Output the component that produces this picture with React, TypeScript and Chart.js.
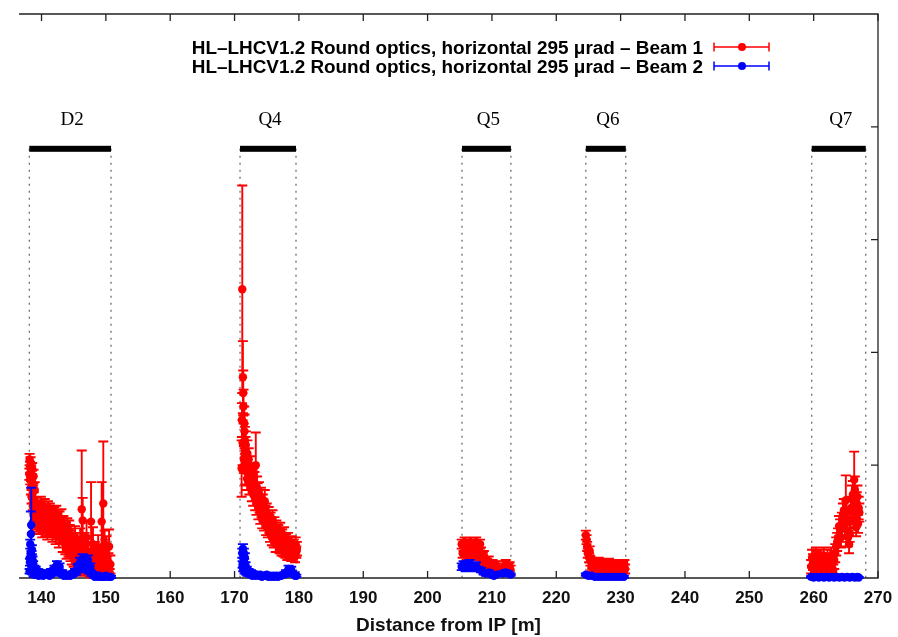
import React, { useEffect, useRef } from "react";
import { Chart, registerables } from "chart.js";

Chart.register(...registerables);

// ---------- axis ranges / ticks ----------
const X_MIN = 136.5;
const X_MAX = 270;
const Y_MIN = 0;
const Y_MAX = 5;
const xTicks = [140, 150, 160, 170, 180, 190, 200, 210, 220, 230, 240, 250, 260, 270];
const yTicks = [1, 2, 3, 4];
const xTitle = "Distance from IP [m]";

// ---------- magnets ----------
const magnetNames = ["D2", "Q4", "Q5", "Q6", "Q7"];
const magnetStart = [138.1, 170.85, 205.35, 224.6, 259.7];
const magnetEnd = [150.8, 179.55, 212.95, 230.8, 268.1];

// ---------- legend ----------
const legendLabels = [
  "HL\u2013LHCV1.2 Round optics, horizontal 295 \u03bcrad \u2013 Beam 1",
  "HL\u2013LHCV1.2 Round optics, horizontal 295 \u03bcrad \u2013 Beam 2",
];

// ---------- data: [position (m), value, error] ----------
const beam1D2 = [
  [138.1, 0.92, 0.05], [138.15, 1.05, 0.05], [138.2, 0.98, 0.05], [138.25, 0.88, 0.05],
  [138.3, 1.02, 0.05], [138.35, 0.8, 0.06], [138.4, 0.95, 0.05], [138.45, 0.72, 0.06],
  [138.5, 0.9, 0.05], [138.55, 0.97, 0.05], [138.6, 0.84, 0.06], [138.65, 0.66, 0.06],
  [138.7, 0.76, 0.06], [138.75, 0.9, 0.06], [138.8, 0.7, 0.06], [138.85, 0.55, 0.07],
  [138.9, 0.62, 0.07], [138.95, 0.78, 0.07], [139.0, 0.5, 0.07], [139.1, 0.58, 0.07],
  [139.2, 0.64, 0.07], [139.3, 0.48, 0.07], [139.4, 0.55, 0.07], [139.5, 0.62, 0.07],
  [139.6, 0.46, 0.07], [139.7, 0.6, 0.07], [139.8, 0.52, 0.08], [139.9, 0.64, 0.08],
  [140.0, 0.56, 0.08], [140.1, 0.44, 0.08], [140.2, 0.6, 0.08], [140.3, 0.48, 0.08],
  [140.4, 0.52, 0.08], [140.5, 0.62, 0.08], [140.6, 0.45, 0.08], [140.7, 0.54, 0.08],
  [140.8, 0.58, 0.08], [140.9, 0.42, 0.08], [141.0, 0.6, 0.08], [141.1, 0.46, 0.08],
  [141.2, 0.54, 0.08], [141.3, 0.58, 0.08], [141.4, 0.44, 0.08], [141.5, 0.52, 0.08],
  [141.6, 0.5, 0.08], [141.7, 0.4, 0.08], [141.8, 0.56, 0.08], [141.9, 0.44, 0.08],
  [142.0, 0.55, 0.08], [142.1, 0.5, 0.08], [142.2, 0.38, 0.08], [142.3, 0.56, 0.08],
  [142.4, 0.48, 0.08], [142.5, 0.42, 0.08], [142.6, 0.52, 0.09], [142.7, 0.36, 0.09],
  [142.8, 0.5, 0.09], [142.9, 0.46, 0.09], [143.0, 0.4, 0.09], [143.1, 0.52, 0.09],
  [143.2, 0.45, 0.09], [143.3, 0.32, 0.09], [143.4, 0.46, 0.09], [143.5, 0.36, 0.09],
  [143.6, 0.42, 0.09], [143.7, 0.3, 0.09], [143.8, 0.4, 0.09], [143.9, 0.26, 0.09],
  [144.0, 0.44, 0.09], [144.1, 0.34, 0.09], [144.2, 0.28, 0.09], [144.3, 0.42, 0.09],
  [144.4, 0.38, 0.09], [144.5, 0.24, 0.09], [144.6, 0.32, 0.1], [144.7, 0.22, 0.1],
  [144.8, 0.34, 0.1], [144.9, 0.28, 0.1], [145.0, 0.2, 0.1], [145.1, 0.3, 0.1],
  [145.2, 0.36, 0.1], [145.3, 0.18, 0.1], [145.4, 0.26, 0.1], [145.5, 0.16, 0.1],
  [145.6, 0.3, 0.1], [145.7, 0.24, 0.1], [145.8, 0.14, 0.1], [145.9, 0.22, 0.1],
  [146.0, 0.34, 0.1], [146.1, 0.12, 0.08], [146.25, 0.61, 0.52], [146.3, 0.2, 0.1],
  [146.4, 0.51, 0.2], [146.5, 0.1, 0.08], [146.6, 0.18, 0.1], [146.7, 0.28, 0.12],
  [146.9, 0.08, 0.06], [147.0, 0.36, 0.15], [147.1, 0.2, 0.1], [147.2, 0.1, 0.08],
  [147.3, 0.22, 0.1], [147.4, 0.16, 0.1], [147.5, 0.06, 0.05], [147.7, 0.5, 0.35],
  [147.8, 0.12, 0.08], [147.9, 0.05, 0.05], [148.0, 0.3, 0.15], [148.1, 0.14, 0.08],
  [148.2, 0.06, 0.05], [148.3, 0.22, 0.1], [148.4, 0.2, 0.1], [148.5, 0.08, 0.06],
  [148.6, 0.16, 0.08], [148.7, 0.05, 0.05], [148.8, 0.26, 0.12], [148.9, 0.12, 0.08],
  [149.0, 0.06, 0.05], [149.1, 0.16, 0.1], [149.2, 0.2, 0.1], [149.35, 0.5, 0.35],
  [149.4, 0.08, 0.06], [149.5, 0.14, 0.08], [149.6, 0.66, 0.55], [149.7, 0.06, 0.05],
  [149.8, 0.3, 0.12], [149.9, 0.22, 0.12], [150.0, 0.1, 0.06], [150.1, 0.25, 0.12],
  [150.2, 0.18, 0.1], [150.3, 0.06, 0.05], [150.4, 0.14, 0.08], [150.5, 0.28, 0.15],
  [150.6, 0.04, 0.04], [150.7, 0.12, 0.08],
];
const beam1Q4 = [
  [171.1, 0.97, 0.25], [171.15, 1.4, 0.15], [171.2, 2.56, 0.92], [171.25, 1.2, 0.2],
  [171.3, 1.78, 0.32], [171.35, 1.64, 0.2], [171.4, 1.52, 0.15], [171.45, 1.05, 0.12],
  [171.5, 1.37, 0.15], [171.55, 1.3, 0.15], [171.6, 1.22, 0.12], [171.65, 0.95, 0.12],
  [171.7, 1.13, 0.12], [171.75, 1.18, 0.12], [171.8, 0.97, 0.15], [171.85, 1.05, 0.1],
  [171.95, 0.88, 0.1], [172.0, 1.1, 0.12], [172.1, 0.98, 0.1], [172.2, 1.05, 0.1],
  [172.3, 0.84, 0.1], [172.4, 0.98, 0.1], [172.5, 0.92, 0.1], [172.6, 0.9, 0.1],
  [172.7, 0.78, 0.1], [172.8, 0.86, 0.1], [172.9, 0.74, 0.1], [173.0, 0.92, 0.1],
  [173.1, 0.84, 0.1], [173.2, 0.7, 0.1], [173.3, 1.0, 0.29], [173.4, 0.66, 0.1],
  [173.5, 0.8, 0.1], [173.6, 0.74, 0.1], [173.7, 0.62, 0.1], [173.8, 0.75, 0.1],
  [173.9, 0.68, 0.1], [174.0, 0.58, 0.1], [174.1, 0.7, 0.1], [174.2, 0.62, 0.08],
  [174.3, 0.52, 0.08], [174.4, 0.64, 0.1], [174.5, 0.58, 0.08], [174.6, 0.5, 0.08],
  [174.7, 0.68, 0.1], [174.8, 0.56, 0.08], [174.9, 0.46, 0.08], [175.0, 0.58, 0.08],
  [175.1, 0.5, 0.08], [175.2, 0.44, 0.08], [175.3, 0.55, 0.08], [175.4, 0.48, 0.08],
  [175.5, 0.4, 0.08], [175.6, 0.5, 0.08], [175.7, 0.44, 0.08], [175.8, 0.36, 0.07],
  [175.9, 0.52, 0.08], [176.0, 0.42, 0.07], [176.1, 0.34, 0.07], [176.2, 0.46, 0.08],
  [176.3, 0.38, 0.07], [176.4, 0.3, 0.07], [176.5, 0.44, 0.07], [176.6, 0.36, 0.07],
  [176.7, 0.3, 0.07], [176.8, 0.4, 0.07], [176.9, 0.34, 0.06], [177.0, 0.28, 0.06],
  [177.1, 0.42, 0.07], [177.2, 0.32, 0.06], [177.3, 0.26, 0.06], [177.4, 0.36, 0.07],
  [177.5, 0.3, 0.06], [177.6, 0.25, 0.06], [177.7, 0.38, 0.07], [177.8, 0.3, 0.06],
  [177.9, 0.24, 0.06], [178.0, 0.33, 0.06], [178.1, 0.28, 0.06], [178.2, 0.22, 0.06],
  [178.3, 0.34, 0.06], [178.4, 0.27, 0.06], [178.5, 0.22, 0.05], [178.6, 0.3, 0.06],
  [178.7, 0.26, 0.05], [178.8, 0.2, 0.05], [178.9, 0.31, 0.06], [179.0, 0.25, 0.05],
  [179.1, 0.2, 0.05], [179.2, 0.28, 0.06], [179.3, 0.24, 0.05], [179.4, 0.19, 0.05],
  [179.5, 0.3, 0.06], [179.6, 0.23, 0.05], [179.7, 0.26, 0.06],
];
const beam1Q5 = [
  [205.3, 0.3, 0.04], [205.45, 0.22, 0.04], [205.6, 0.28, 0.04], [205.75, 0.32, 0.04],
  [205.9, 0.24, 0.04], [206.05, 0.2, 0.04], [206.2, 0.3, 0.04], [206.35, 0.24, 0.04],
  [206.5, 0.26, 0.04], [206.65, 0.32, 0.04], [206.8, 0.22, 0.04], [206.95, 0.2, 0.04],
  [207.1, 0.28, 0.05], [207.25, 0.22, 0.04], [207.4, 0.29, 0.05], [207.55, 0.32, 0.04],
  [207.7, 0.24, 0.05], [207.85, 0.2, 0.04], [208.0, 0.26, 0.05], [208.15, 0.3, 0.04],
  [208.3, 0.22, 0.05], [208.45, 0.16, 0.04], [208.6, 0.18, 0.05], [208.75, 0.2, 0.04],
  [208.9, 0.14, 0.04], [209.05, 0.1, 0.04], [209.2, 0.12, 0.04], [209.35, 0.08, 0.04],
  [209.5, 0.15, 0.04], [209.65, 0.12, 0.04], [209.8, 0.1, 0.04], [209.95, 0.07, 0.04],
  [210.1, 0.12, 0.04], [210.25, 0.09, 0.04], [210.4, 0.09, 0.04], [210.55, 0.06, 0.04],
  [210.7, 0.11, 0.04], [211.7, 0.09, 0.04], [211.85, 0.06, 0.04], [212.0, 0.1, 0.05],
  [212.15, 0.12, 0.04], [212.3, 0.08, 0.04], [212.45, 0.06, 0.04], [212.6, 0.09, 0.04],
  [212.75, 0.1, 0.04], [212.9, 0.07, 0.04],
];
const beam1Q6 = [
  [224.6, 0.38, 0.04], [224.7, 0.34, 0.04], [224.8, 0.28, 0.04], [224.9, 0.22, 0.04],
  [225.1, 0.18, 0.04], [225.2, 0.24, 0.04], [225.3, 0.15, 0.04], [225.45, 0.1, 0.04],
  [225.6, 0.12, 0.04], [225.8, 0.14, 0.04], [226.0, 0.1, 0.04], [226.2, 0.07, 0.04],
  [226.4, 0.12, 0.05], [226.6, 0.14, 0.04], [226.8, 0.09, 0.04], [227.0, 0.07, 0.04],
  [227.2, 0.11, 0.05], [227.4, 0.13, 0.04], [227.6, 0.08, 0.04], [227.8, 0.06, 0.04],
  [228.0, 0.1, 0.05], [228.2, 0.13, 0.04], [228.4, 0.09, 0.05], [228.6, 0.06, 0.04],
  [228.8, 0.11, 0.05], [229.0, 0.12, 0.04], [229.2, 0.08, 0.05], [229.4, 0.06, 0.04],
  [229.6, 0.1, 0.05], [229.8, 0.12, 0.04], [230.0, 0.09, 0.05], [230.2, 0.06, 0.04],
  [230.4, 0.1, 0.05], [230.6, 0.12, 0.04], [230.7, 0.08, 0.04],
];
const beam1Q7 = [
  [259.6, 0.1, 0.06], [259.75, 0.18, 0.07], [259.9, 0.14, 0.07], [260.05, 0.05, 0.05],
  [260.2, 0.08, 0.06], [260.35, 0.2, 0.07], [260.5, 0.16, 0.08], [260.65, 0.06, 0.05],
  [260.8, 0.12, 0.07], [260.95, 0.18, 0.07], [261.1, 0.1, 0.06], [261.25, 0.05, 0.05],
  [261.4, 0.15, 0.07], [261.55, 0.2, 0.07], [261.7, 0.11, 0.06], [261.85, 0.06, 0.05],
  [262.0, 0.13, 0.07], [262.15, 0.18, 0.07], [262.3, 0.09, 0.06], [262.45, 0.05, 0.05],
  [262.6, 0.14, 0.07], [262.75, 0.2, 0.07], [262.9, 0.12, 0.07], [263.05, 0.07, 0.05],
  [263.2, 0.16, 0.08], [263.35, 0.22, 0.08], [263.5, 0.28, 0.08], [263.65, 0.32, 0.08],
  [263.8, 0.36, 0.08], [263.95, 0.46, 0.09], [264.1, 0.42, 0.1], [264.25, 0.36, 0.09],
  [264.4, 0.48, 0.1], [264.55, 0.56, 0.1], [264.7, 0.6, 0.1], [264.85, 0.44, 0.09],
  [265.0, 0.69, 0.22], [265.1, 0.58, 0.1], [265.2, 0.52, 0.1], [265.35, 0.36, 0.08],
  [265.5, 0.3, 0.08], [265.6, 0.4, 0.08], [265.7, 0.5, 0.1], [265.8, 0.62, 0.1],
  [265.95, 0.7, 0.12], [266.1, 0.74, 0.12], [266.2, 0.6, 0.1], [266.3, 0.87, 0.25],
  [266.4, 0.78, 0.12], [266.5, 0.55, 0.1], [266.6, 0.45, 0.08], [266.7, 0.66, 0.1],
  [266.8, 0.72, 0.1], [266.9, 0.48, 0.08], [267.0, 0.62, 0.1], [267.1, 0.58, 0.08],
];

const beam2D2 = [
  [138.15, 0.06, 0.02], [138.2, 0.14, 0.03], [138.25, 0.3, 0.04], [138.3, 0.22, 0.04],
  [138.35, 0.39, 0.2], [138.4, 0.47, 0.33], [138.45, 0.2, 0.04], [138.5, 0.25, 0.04],
  [138.55, 0.08, 0.02], [138.6, 0.16, 0.03], [138.65, 0.05, 0.02], [138.7, 0.12, 0.03],
  [138.8, 0.03, 0.02], [138.9, 0.09, 0.02], [139.0, 0.04, 0.02], [139.1, 0.08, 0.02],
  [139.25, 0.03, 0.01], [139.4, 0.06, 0.02], [139.55, 0.02, 0.01], [139.7, 0.05, 0.02],
  [139.85, 0.03, 0.01], [140.0, 0.05, 0.02], [140.25, 0.02, 0.01], [140.5, 0.04, 0.02],
  [140.75, 0.03, 0.01], [141.0, 0.05, 0.02], [141.25, 0.02, 0.01], [141.5, 0.06, 0.02],
  [141.75, 0.04, 0.01], [142.0, 0.09, 0.02], [142.2, 0.06, 0.02], [142.4, 0.12, 0.03],
  [142.6, 0.08, 0.02], [142.8, 0.1, 0.03], [143.0, 0.04, 0.02], [143.2, 0.05, 0.02],
  [143.45, 0.02, 0.01], [143.7, 0.03, 0.01], [143.95, 0.02, 0.01], [144.2, 0.03, 0.01],
  [144.45, 0.02, 0.01], [144.7, 0.04, 0.01], [144.95, 0.03, 0.01], [145.2, 0.06, 0.02],
  [145.4, 0.05, 0.02], [145.6, 0.09, 0.03], [145.8, 0.1, 0.03], [146.0, 0.14, 0.04],
  [146.2, 0.08, 0.03], [146.4, 0.17, 0.04], [146.6, 0.12, 0.03], [146.8, 0.13, 0.04],
  [147.0, 0.09, 0.03], [147.2, 0.16, 0.04], [147.4, 0.06, 0.02], [147.6, 0.1, 0.03],
  [147.8, 0.03, 0.01], [148.0, 0.04, 0.01], [148.25, 0.01, 0.01], [148.5, 0.02, 0.01],
  [148.75, 0.01, 0.01], [149.0, 0.02, 0.01], [149.25, 0.01, 0.01], [149.5, 0.01, 0.01],
  [149.75, 0.01, 0.01], [150.0, 0.02, 0.01], [150.25, 0.01, 0.01], [150.5, 0.01, 0.01],
  [150.8, 0.01, 0.01],
];
const beam2Q4 = [
  [171.2, 0.22, 0.04], [171.25, 0.12, 0.03], [171.3, 0.26, 0.04], [171.35, 0.08, 0.02],
  [171.4, 0.18, 0.04], [171.45, 0.22, 0.04], [171.5, 0.14, 0.03], [171.55, 0.06, 0.02],
  [171.6, 0.18, 0.04], [171.7, 0.11, 0.03], [171.8, 0.05, 0.02], [171.9, 0.08, 0.02],
  [172.0, 0.04, 0.02], [172.2, 0.06, 0.02], [172.35, 0.03, 0.01], [172.5, 0.05, 0.02],
  [172.75, 0.02, 0.01], [173.0, 0.04, 0.01], [173.25, 0.02, 0.01], [173.5, 0.03, 0.01],
  [173.75, 0.02, 0.01], [174.0, 0.03, 0.01], [174.25, 0.01, 0.01], [174.5, 0.02, 0.01],
  [174.75, 0.02, 0.01], [175.0, 0.03, 0.01], [175.25, 0.01, 0.01], [175.5, 0.02, 0.01],
  [175.75, 0.01, 0.01], [176.0, 0.02, 0.01], [176.25, 0.01, 0.01], [176.5, 0.02, 0.01],
  [176.75, 0.01, 0.01], [177.0, 0.02, 0.01], [177.25, 0.02, 0.01], [177.5, 0.03, 0.01],
  [177.75, 0.03, 0.01], [178.0, 0.05, 0.02], [178.2, 0.04, 0.02], [178.4, 0.08, 0.03],
  [178.6, 0.06, 0.02], [178.8, 0.07, 0.03], [179.0, 0.04, 0.02], [179.2, 0.03, 0.01],
  [179.4, 0.02, 0.01], [179.6, 0.02, 0.01],
];
const beam2Q5 = [
  [205.3, 0.1, 0.03], [205.6, 0.12, 0.03], [205.9, 0.09, 0.03], [206.2, 0.11, 0.03],
  [206.5, 0.13, 0.03], [206.8, 0.1, 0.03], [207.1, 0.09, 0.03], [207.5, 0.11, 0.03],
  [207.9, 0.08, 0.02], [208.3, 0.07, 0.02], [208.7, 0.05, 0.02], [209.1, 0.04, 0.02],
  [209.5, 0.05, 0.02], [209.9, 0.03, 0.01], [210.3, 0.02, 0.01], [210.7, 0.03, 0.01],
  [211.7, 0.04, 0.02], [212.1, 0.05, 0.02], [212.5, 0.04, 0.02], [212.9, 0.03, 0.01],
];
const beam2Q6 = [
  [224.6, 0.03, 0.01], [225.0, 0.02, 0.01], [225.5, 0.02, 0.01], [226.0, 0.01, 0.01],
  [226.5, 0.01, 0.01], [227.0, 0.01, 0.01], [227.5, 0.01, 0.01], [228.0, 0.01, 0.01],
  [228.5, 0.01, 0.01], [229.0, 0.01, 0.01], [229.5, 0.01, 0.01], [230.0, 0.01, 0.01],
  [230.5, 0.01, 0.01],
];
const beam2Q7 = [
  [259.6, 0.01, 0.005], [260.0, 0.005, 0.005], [260.4, 0.01, 0.005], [260.8, 0.005, 0.005],
  [261.2, 0.01, 0.005], [261.6, 0.005, 0.005], [262.0, 0.01, 0.005], [262.4, 0.005, 0.005],
  [262.8, 0.01, 0.005], [263.2, 0.005, 0.005], [263.6, 0.01, 0.005], [264.0, 0.005, 0.005],
  [264.4, 0.01, 0.005], [264.8, 0.005, 0.005], [265.2, 0.01, 0.005], [265.6, 0.005, 0.005],
  [266.0, 0.01, 0.005], [266.4, 0.005, 0.005], [266.8, 0.01, 0.005], [267.0, 0.005, 0.005],
];

const beam1 = [...beam1D2, ...beam1Q4, ...beam1Q5, ...beam1Q6, ...beam1Q7];
const beam2 = [...beam2D2, ...beam2Q4, ...beam2Q5, ...beam2Q6, ...beam2Q7];

const RED = "#ff0000";
const BLUE = "#0000ff";
const SANS = "'Liberation Sans', Arial, Helvetica, sans-serif";
const SERIF = "'Liberation Serif', 'Times New Roman', serif";

const toPoints = (rows: number[][]) => rows.map(([x, y, e]) => ({ x, y, err: e }));

const errorBarPlugin = {
  id: "errorBars",
  beforeDatasetDraw(chart: any, args: any) {
    const ds = chart.data.datasets[args.index];
    const xs = chart.scales.x;
    const ys = chart.scales.y;
    const ctx = chart.ctx;
    const a = chart.chartArea;
    ctx.save();
    ctx.beginPath();
    ctx.rect(a.left, a.top, a.right - a.left, a.bottom - a.top + 1);
    ctx.clip();
    ctx.strokeStyle = ds.borderColor;
    ctx.lineWidth = 1.9;
    ctx.beginPath();
    const cap = 5;
    for (const p of ds.data) {
      const px = xs.getPixelForValue(p.x);
      const top = ys.getPixelForValue(p.y + p.err);
      const bot = ys.getPixelForValue(p.y - p.err);
      ctx.moveTo(px, top);
      ctx.lineTo(px, bot);
      ctx.moveTo(px - cap, top);
      ctx.lineTo(px + cap, top);
      ctx.moveTo(px - cap, bot);
      ctx.lineTo(px + cap, bot);
    }
    ctx.stroke();
    ctx.restore();
  },
};

const framePlugin = {
  id: "frame",
  beforeDatasetsDraw(chart: any) {
    const ctx = chart.ctx;
    const xs = chart.scales.x;
    const ys = chart.scales.y;
    const a = chart.chartArea;
    ctx.save();

    // magnets: dotted edges, bars, labels
    const barY = ys.getPixelForValue(3.805);
    const labelY = ys.getPixelForValue(4.02);
    for (let i = 0; i < magnetNames.length; i++) {
      const x0 = xs.getPixelForValue(magnetStart[i]);
      const x1 = xs.getPixelForValue(magnetEnd[i]);
      ctx.strokeStyle = "#555";
      ctx.lineWidth = 1.1;
      ctx.setLineDash([2, 5]);
      ctx.beginPath();
      ctx.moveTo(x0, barY);
      ctx.lineTo(x0, a.bottom);
      ctx.moveTo(x1, barY);
      ctx.lineTo(x1, a.bottom);
      ctx.stroke();
      ctx.setLineDash([]);
      ctx.fillStyle = "#000";
      ctx.fillRect(x0, barY - 3, x1 - x0, 6);
      ctx.font = `19px ${SERIF}`;
      ctx.textAlign = "center";
      ctx.textBaseline = "alphabetic";
      ctx.fillText(magnetNames[i], (x0 + x1) / 2 + 2, labelY);
    }

    // frame (top, right, bottom)
    ctx.strokeStyle = "#222";
    ctx.lineWidth = 1.3;
    ctx.beginPath();
    ctx.moveTo(a.left, a.top);
    ctx.lineTo(a.right, a.top);
    ctx.lineTo(a.right, a.bottom);
    ctx.lineTo(a.left, a.bottom);
    ctx.stroke();

    // inward ticks
    const tl = 7;
    ctx.beginPath();
    for (const v of xTicks) {
      const px = xs.getPixelForValue(v);
      ctx.moveTo(px, a.bottom);
      ctx.lineTo(px, a.bottom - tl);
      ctx.moveTo(px, a.top);
      ctx.lineTo(px, a.top + tl);
    }
    for (const v of yTicks) {
      const py = ys.getPixelForValue(v);
      ctx.moveTo(a.right, py);
      ctx.lineTo(a.right - tl, py);
    }
    ctx.stroke();
    ctx.restore();
  },
};

const legendPlugin = {
  id: "gpLegend",
  afterDraw(chart: any) {
    const ctx = chart.ctx;
    const colors = [RED, BLUE];
    const rowsY = [47, 66];
    ctx.save();
    ctx.font = `bold 18.9px ${SANS}`;
    ctx.textAlign = "right";
    ctx.textBaseline = "alphabetic";
    for (let i = 0; i < legendLabels.length; i++) {
      const y = rowsY[i];
      ctx.fillStyle = "#000";
      ctx.fillText(legendLabels[i], 703, y + 6.5);
      ctx.strokeStyle = colors[i];
      ctx.lineWidth = 1.5;
      ctx.beginPath();
      ctx.moveTo(714, y);
      ctx.lineTo(769, y);
      ctx.moveTo(714, y - 4.5);
      ctx.lineTo(714, y + 4.5);
      ctx.moveTo(769, y - 4.5);
      ctx.lineTo(769, y + 4.5);
      ctx.stroke();
      ctx.fillStyle = colors[i];
      ctx.beginPath();
      ctx.arc(742, y, 4, 0, Math.PI * 2);
      ctx.fill();
    }
    ctx.restore();
  },
};

export default function App() {
  const canvasRef = useRef<HTMLCanvasElement | null>(null);

  useEffect(() => {
    const canvas = canvasRef.current;
    if (!canvas) return;
    const chart = new Chart(canvas, {
      type: "scatter",
      data: {
        datasets: [
          {
            label: legendLabels[0],
            data: toPoints(beam1) as any,
            borderColor: RED,
            backgroundColor: RED,
            pointRadius: 4.2,
            pointBorderWidth: 0,
            pointHoverRadius: 4.2,
            showLine: false,
            clip: false as any,
            order: 2,
          },
          {
            label: legendLabels[1],
            data: toPoints(beam2) as any,
            borderColor: BLUE,
            backgroundColor: BLUE,
            pointRadius: 4.2,
            pointBorderWidth: 0,
            pointHoverRadius: 4.2,
            showLine: false,
            clip: false as any,
            order: 1,
          },
        ],
      },
      options: {
        animation: false,
        responsive: false,
        devicePixelRatio: 1,
        events: [],
        layout: { padding: { left: 19, right: 20, top: 14, bottom: 0 } },
        plugins: {
          legend: { display: false },
          tooltip: { enabled: false },
        },
        scales: {
          x: {
            type: "linear",
            min: X_MIN,
            max: X_MAX,
            afterBuildTicks: (s: any) => {
              s.ticks = xTicks.map((v) => ({ value: v }));
            },
            afterFit: (s: any) => {
              s.height = 59;
              s.paddingLeft = 0;
              s.paddingRight = 0;
            },
            grid: { display: false, drawTicks: false },
            border: { display: false },
            ticks: {
              autoSkip: false,
              maxRotation: 0,
              padding: 10,
              color: "#111",
              font: { family: SANS, size: 17, weight: "bold" },
            },
            title: {
              display: true,
              text: xTitle,
              color: "#111",
              font: { family: SANS, size: 19, weight: "bold" },
              padding: { top: 4, bottom: 0 },
            },
          },
          y: {
            type: "linear",
            min: Y_MIN,
            max: Y_MAX,
            display: false,
          },
        },
      },
      plugins: [errorBarPlugin, framePlugin, legendPlugin],
    });
    return () => chart.destroy();
  }, []);

  return (
    <div style={{ position: "absolute", left: 0, top: 0, width: 898, height: 637, background: "#fff" }}>
      <canvas ref={canvasRef} width={898} height={637} style={{ display: "block" }} />
    </div>
  );
}
